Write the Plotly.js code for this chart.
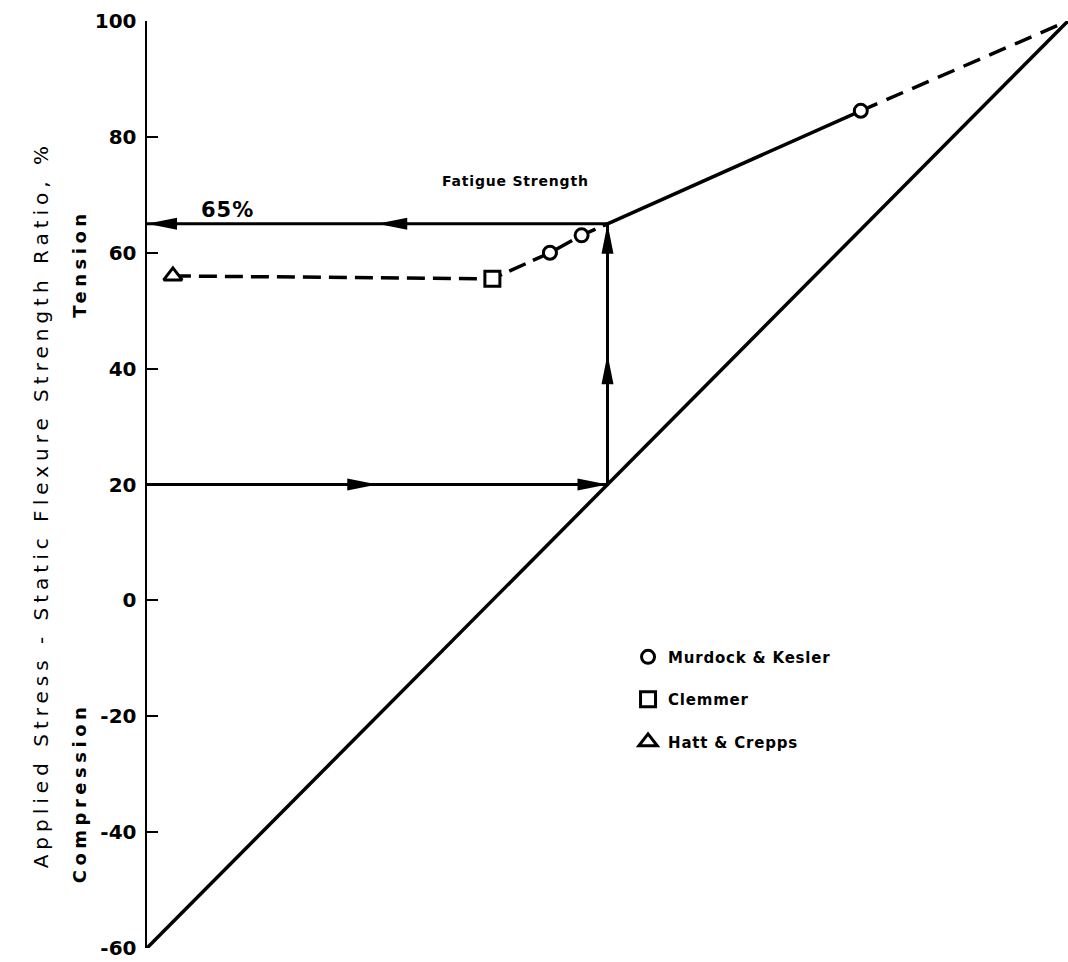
<!DOCTYPE html>
<html>
<head>
<meta charset="utf-8">
<script src="https://cdn.plot.ly/plotly-3.0.1.min.js"></script>
<style>
  html, body { margin: 0; padding: 0; background: #fff; }
  #chart { width: 1068px; height: 962px; }
  .legendtext { letter-spacing: 0.8px; }
</style>
</head>
<body>
<div id="chart"></div>
<script>
// Stress ratio diagram: applied stress as a percent of static flexure strength.
const yTickVals = [-60, -40, -20, 0, 20, 40, 60, 80, 100];
const yTickText = ['-60', '-40', '-20', '0', '20', '40', '60', '80', '100'];

// Line of equal minimum and maximum stress
const equalX = [-60, 100];
const equalY = [-60, 100];

// Test results
const murdockX = [10, 15.5, 64];
const murdockY = [60, 63, 84.5];
const clemmerX = [0];
const clemmerY = [55.5];
const hattX = [-55.5];
const hattY = [56];

// Fatigue strength line from the 65% point up to 100%
const fatigueX = [20, 64, 100];
const fatigueY = [65, 84.5, 100];

// Reading path: minimum stress 20% -> fatigue line -> 65%
const pathX = [-60, 20, 20, -60];
const pathY = [20, 20, 65, 65];

// Text labels
const labelText = ['65%', 'Fatigue Strength'];
const labelX = [-46, 4];
const labelY = [67.3, 72.3];

const W = 1068, H = 962;
const M = { l: 147, r: 0, t: 21, b: 14 };
const xRange = [-60, 100], yRange = [-60, 100];
const pxX = (W - M.l - M.r) / (xRange[1] - xRange[0]);
const pxY = (H - M.t - M.b) / (yRange[1] - yRange[0]);

const FONT = 'DejaVu Sans, Verdana, sans-serif';
const INK = '#000';

// Dashed branch through the results, ending at the fatigue point
const lowerX = hattX.concat(clemmerX, murdockX.slice(0, 2), [fatigueX[0]]);
const lowerY = hattY.concat(clemmerY, murdockY.slice(0, 2), [fatigueY[0]]);

const traces = [
  { x: equalX, y: equalY, mode: 'lines', line: { color: INK, width: 3.5 },
    showlegend: false, hoverinfo: 'skip', cliponaxis: false },
  { x: pathX, y: pathY, mode: 'lines', line: { color: INK, width: 3 },
    showlegend: false, hoverinfo: 'skip', cliponaxis: false },
  { x: fatigueX.slice(0, 2), y: fatigueY.slice(0, 2), mode: 'lines',
    line: { color: INK, width: 3.5 }, showlegend: false, hoverinfo: 'skip', cliponaxis: false },
  { x: fatigueX.slice(1), y: fatigueY.slice(1), mode: 'lines',
    line: { color: INK, width: 3.5, dash: '18px,10px' }, showlegend: false, hoverinfo: 'skip', cliponaxis: false },
  { x: lowerX, y: lowerY, mode: 'lines',
    line: { color: INK, width: 3.5, dash: '18px,8px' }, showlegend: false, hoverinfo: 'skip', cliponaxis: false },
  { x: murdockX, y: murdockY, mode: 'markers', name: 'Murdock & Kesler', legendgroup: 'a',
    marker: { symbol: 'circle', size: 13, color: '#fff', line: { color: INK, width: 3 } }, cliponaxis: false },
  { x: clemmerX, y: clemmerY, mode: 'markers', name: 'Clemmer', legendgroup: 'b',
    marker: { symbol: 'square', size: 15, color: '#fff', line: { color: INK, width: 3 } }, cliponaxis: false },
  { x: hattX, y: hattY, mode: 'markers', name: 'Hatt & Crepps', legendgroup: 'c',
    marker: { symbol: 'triangle-up', size: 16, color: '#fff', line: { color: INK, width: 3 } }, cliponaxis: false }
];

// Arrowheads at the middle and the end of each leg of the reading path
const HEAD_LEN = 30, HEAD_HALF = 6;
function headPath(tx, ty, ux, uy) {
  const bx = tx - ux * HEAD_LEN / pxX, by = ty - uy * HEAD_LEN / pxY;
  const px = -uy * HEAD_HALF / pxX, py = ux * HEAD_HALF / pxY;
  return `M${tx},${ty} L${bx + px},${by + py} L${bx - px},${by - py} Z`;
}
const shapes = [];
for (let i = 0; i < pathX.length - 1; i++) {
  const x0 = pathX[i], y0 = pathY[i], x1 = pathX[i + 1], y1 = pathY[i + 1];
  const dxp = (x1 - x0) * pxX, dyp = (y1 - y0) * pxY;
  const len = Math.hypot(dxp, dyp);
  const ux = dxp / len, uy = dyp / len;
  [[(x0 + x1) / 2, (y0 + y1) / 2], [x1, y1]].forEach(([tx, ty]) => {
    shapes.push({ type: 'path', xref: 'x', yref: 'y', path: headPath(tx, ty, ux, uy),
      fillcolor: INK, line: { width: 0 } });
  });
}

const spaced = (s, px) => `<span style="letter-spacing:${px}px">${s}</span>`;

const annotations = [
  { text: spaced('Applied Stress - Static Flexure Strength Ratio, %', 5), xref: 'paper', yref: 'y',
    x: 0, y: 16.4, xshift: -120, textangle: -90, showarrow: false,
    font: { family: FONT, size: 20, color: INK } },
  { text: spaced('Tension', 4.5), xref: 'paper', yref: 'y', x: 0, y: 58, xshift: -80,
    textangle: -90, showarrow: false, font: { family: FONT, size: 18, weight: 'bold', color: INK } },
  { text: spaced('Compression', 4.5), xref: 'paper', yref: 'y', x: 0, y: -33.2, xshift: -80,
    textangle: -90, showarrow: false, font: { family: FONT, size: 18, weight: 'bold', color: INK } },
  { text: spaced(labelText[0], 1), x: labelX[0], y: labelY[0], xref: 'x', yref: 'y', showarrow: false,
    font: { family: FONT, size: 21, weight: 'bold', color: INK } },
  { text: spaced(labelText[1], 0.8), x: labelX[1], y: labelY[1], xref: 'x', yref: 'y', showarrow: false,
    font: { family: FONT, size: 14, weight: 'bold', color: INK } }
];

const layout = {
  width: W, height: H,
  margin: M,
  paper_bgcolor: '#fff', plot_bgcolor: '#fff',
  showlegend: true,
  legend: {
    x: 0.5223, xanchor: 'left', y: 0.3316, yanchor: 'top',
    bgcolor: 'rgba(0,0,0,0)', borderwidth: 0,
    tracegroupgap: 20, itemwidth: 30,
    font: { family: FONT, size: 15, weight: 'bold', color: INK }
  },
  xaxis: { range: xRange, visible: false, fixedrange: true },
  yaxis: {
    range: yRange, tickmode: 'array', tickvals: yTickVals, ticktext: yTickText,
    ticks: 'inside', ticklen: 11, tickwidth: 2, tickcolor: INK,
    showline: true, linewidth: 2.5, linecolor: INK,
    showgrid: false, zeroline: false, fixedrange: true,
    ticklabelstandoff: 4, ticklabeloverflow: 'allow',
    tickfont: { family: FONT, size: 20, weight: 'bold', color: INK }
  },
  shapes: shapes,
  annotations: annotations
};

Plotly.newPlot('chart', traces, layout, { displayModeBar: false, staticPlot: true });
</script>
</body>
</html>
